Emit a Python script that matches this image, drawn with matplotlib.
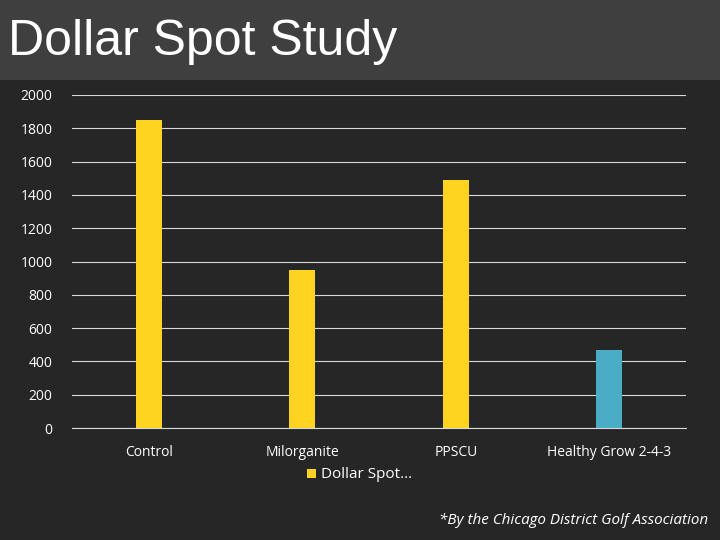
import matplotlib
matplotlib.use("Agg")
import matplotlib.pyplot as plt
from matplotlib.patches import Rectangle

categories = ["Control", "Milorganite", "PPSCU", "Healthy Grow 2-4-3"]
values = [1850, 950, 1490, 470]
colors = ["#FFD320", "#FFD320", "#FFD320", "#4BACC6"]
yticks = [0, 200, 400, 600, 800, 1000, 1200, 1400, 1600, 1800, 2000]

fig = plt.figure(figsize=(7.2, 5.4), dpi=100)
fig.patch.set_facecolor("#262626")
fig.add_artist(Rectangle((0, 1 - 80/540), 1, 80/540, transform=fig.transFigure,
                         facecolor="#3f3f3f", edgecolor="none", zorder=0))
fig.text(8/720, 1 - 42/540, "Dollar Spot Study", color="white", fontsize=36,
         family="Liberation Sans", va="center", ha="left")

ax = fig.add_axes([72/720, 1 - 428/540, 614/720, 333/540])
ax.set_facecolor("#262626")
x = range(len(categories))
ax.bar(x, values, width=0.17, color=colors, zorder=3)
ax.set_xlim(-0.5, 3.5)
ax.set_ylim(0, 2000)
ax.set_yticks(yticks)
ax.set_yticklabels([str(v) for v in yticks], color="white", fontsize=10, family="Open Sans")
ax.set_xticks(list(x))
ax.set_xticklabels(categories, color="white", fontsize=10, family="Open Sans")
ax.yaxis.grid(True, color="#d9d9d9", linewidth=0.8, zorder=0)
for s in ["top", "right", "left"]:
    ax.spines[s].set_visible(False)
ax.spines["bottom"].set_color("#d9d9d9")
ax.tick_params(axis="both", length=0, pad=12)
ax.tick_params(axis="y", pad=14)

fig.add_artist(Rectangle((307/720, 1 - 478/540), 9/720, 9/540, transform=fig.transFigure,
                         facecolor="#FFD320", edgecolor="none"))
fig.text(321/720, 1 - 474/540, "Dollar Spot...", color="white", fontsize=11,
         family="Open Sans", va="center")
fig.text(708/720, 1 - 521/540, "*By the Chicago District Golf Association", color="white",
         fontsize=11, family="Open Sans", style="italic", ha="right", va="center")

fig.savefig("out.png", dpi=100, facecolor=fig.get_facecolor())
